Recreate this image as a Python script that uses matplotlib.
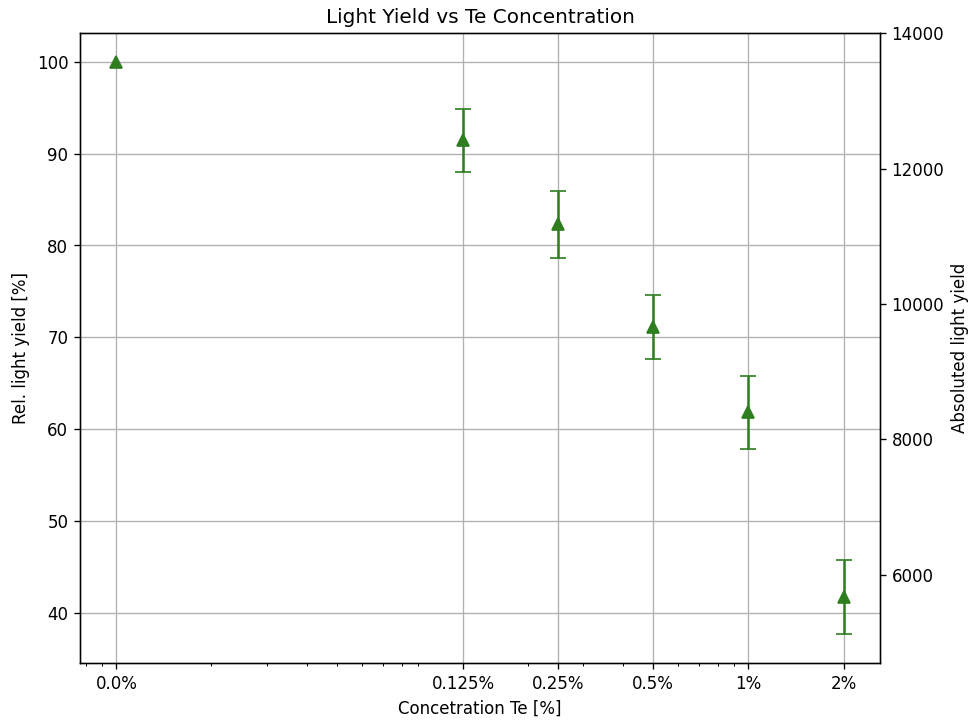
import matplotlib
matplotlib.use("Agg")
import matplotlib.pyplot as plt
import numpy as np

# Te-Konzentration (0% wird auf der log-Achse bei 0.01 gezeichnet)
konzentration = [0.01, 0.125, 0.25, 0.5, 1, 2]
tick_labels = ["0.0%", "0.125%", "0.25%", "0.5%", "1%", "2%"]
rel_ly = [100, 91.45, 82.3, 71.1, 61.85, 41.8]
rel_ly_err = [0, 3.43, 3.66, 3.47, 3.97, 4.03]
abs_ly_100 = 13580  # absolute Lichtausbeute bei 100%

fig, ax = plt.subplots(figsize=(8.1, 6.017), dpi=120)
fig.subplots_adjust(left=0.0823, right=0.9053, top=0.9543, bottom=0.0817)

ax.errorbar(konzentration[1:], rel_ly[1:], yerr=rel_ly_err[1:], fmt='^',
            color='#2e7d1f', markersize=7, capsize=5)
ax.plot(konzentration[:1], rel_ly[:1], '^', color='#2e7d1f', markersize=7)

ax.set_xscale('log')
ax.set_xticks(konzentration, tick_labels)
ax.set_ylim(34.6, 103.11)
ax.grid(True)
ax.set_xlabel("Concetration Te [%]")
ax.set_ylabel("Rel. light yield [%]")
ax.set_title("Light Yield vs Te Concentration")

ax2 = ax.twinx()
lo, hi = ax.get_ylim()
ax2.set_ylim(lo * abs_ly_100 / 100, hi * abs_ly_100 / 100)
ax2.set_ylabel("Absoluted light yield")

fig.savefig("out.png")
